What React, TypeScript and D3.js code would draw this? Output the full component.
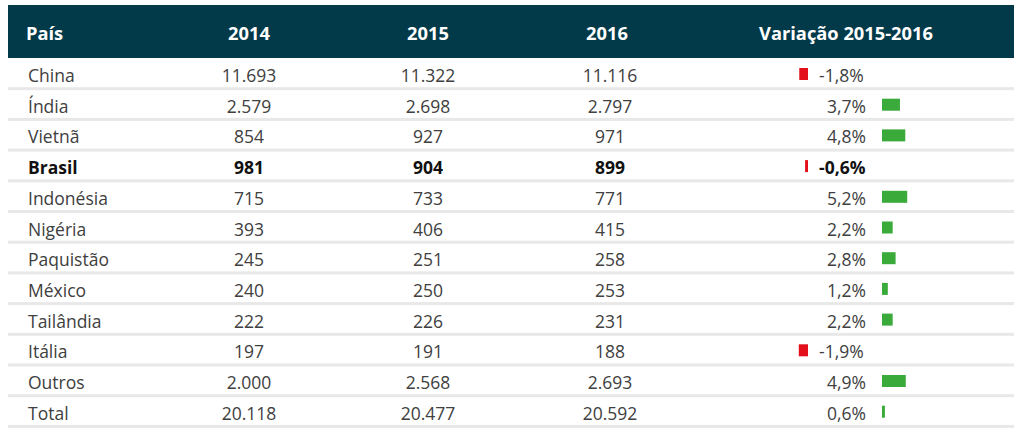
import React from "react";
import * as d3 from "d3";

const countries = ["China", "Índia", "Vietnã", "Brasil", "Indonésia", "Nigéria", "Paquistão", "México", "Tailândia", "Itália", "Outros", "Total"];
const v2014 = ["11.693", "2.579", "854", "981", "715", "393", "245", "240", "222", "197", "2.000", "20.118"];
const v2015 = ["11.322", "2.698", "927", "904", "733", "406", "251", "250", "226", "191", "2.568", "20.477"];
const v2016 = ["11.116", "2.797", "971", "899", "771", "415", "258", "253", "231", "188", "2.693", "20.592"];
const variation = [-1.8, 3.7, 4.8, -0.6, 5.2, 2.2, 2.8, 1.2, 2.2, -1.9, 4.9, 0.6];
const headers = ["País", "2014", "2015", "2016", "Variação 2015-2016"];
const highlight = "Brasil";

const W = 1024;
const H = 434;
const FONT = "'Open Sans', sans-serif";

export default function App() {
  const left = 8, right = 1014;
  const headTop = 5, headBottom = 58;
  const rowsTop = 59.5, rowH = 30.7;
  const y = d3.scaleBand<string>().domain(countries).range([rowsTop, rowsTop + rowH * countries.length]);
  const barScale = d3.scaleLinear().domain([0, 1]).range([0, 4.85]);
  const colX = [28, 249, 428, 610];
  const headX = [26, 249, 428, 607, 846];
  const negBarEnd = 808, posBarStart = 882;
  const fmt = (v: number) => (v < 0 ? "-" : "") + d3.format(".1f")(Math.abs(v)).replace(".", ",") + "%";

  return (
    <svg width={W} height={H} style={{ position: "absolute", left: 0, top: 0 }} fontFamily={FONT}>
      <rect x={0} y={0} width={W} height={H} fill="#fff" />
      <rect x={left} y={headTop} width={right - left} height={headBottom - headTop} fill="#033a4a" />
      {headers.map((h, i) => (
        <text key={h} x={headX[i]} y={39.5} fill="#fff" fontWeight={700} fontSize={18.3}
          textAnchor={i === 0 ? "start" : "middle"}>{h}</text>
      ))}
      {countries.map((c, i) => {
        const top = y(c)!;
        const bold = c === highlight;
        const color = bold ? "#111" : "#404040";
        const fw = bold ? 700 : 400;
        const base = top + 22.5;
        const v = variation[i];
        const bw = barScale(Math.abs(v));
        const fs = 17.5;
        return (
          <g key={c}>
            <rect x={left} y={top + rowH - 3} width={right - left} height={3} fill="#e8e8e8" />
            <text x={colX[0]} y={base} fill={color} fontWeight={fw} fontSize={fs}>{c}</text>
            {[v2014, v2015, v2016].map((arr, j) => (
              <text key={j} x={colX[j + 1]} y={base} fill={color} fontWeight={fw} fontSize={fs} textAnchor="middle">{arr[i]}</text>
            ))}
            {v < 0 ? (
              <>
                <rect x={negBarEnd - bw} y={top + 8.5} width={bw} height={12} fill="#e3101b" />
                <text x={819} y={base} fill={color} fontWeight={fw} fontSize={fs} textAnchor="start">{fmt(v)}</text>
              </>
            ) : (
              <>
                <rect x={posBarStart} y={top + 8.5} width={bw} height={12} fill="#3aaa3a" />
                <text x={866} y={base} fill={color} fontWeight={fw} fontSize={fs} textAnchor="end">{fmt(v)}</text>
              </>
            )}
          </g>
        );
      })}
    </svg>
  );
}
